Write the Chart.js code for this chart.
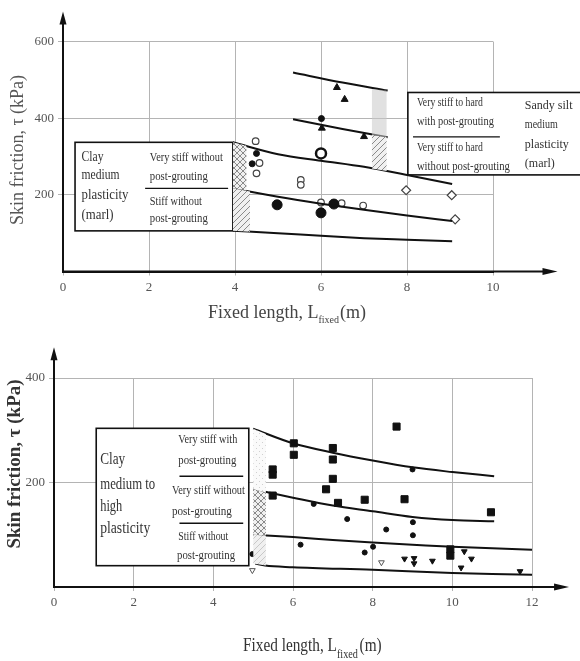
<!DOCTYPE html>
<html><head><meta charset="utf-8">
<script src="https://cdn.jsdelivr.net/npm/chart.js@4.4.1/dist/chart.umd.min.js"></script>
<style>
html,body{margin:0;padding:0;background:#fff;width:580px;height:661px;overflow:hidden}
canvas{position:absolute;left:0}
#c1{top:0}#c2{top:330px}
</style></head><body>
<canvas id="c1" width="580" height="330"></canvas>
<canvas id="c2" width="580" height="331"></canvas>
<script>
// ---------------- DATA ----------------
// Top panel: clay medium plasticity (marl) / sandy silt
const topXTicks=[0,2,4,6,8,10];
const topYTicks=[200,400,600];
const topCurveA=[[5.35,519],[6.5,493],[7.55,472]];
const topCurveB=[[5.35,397],[6.5,372],[7.55,350]];
const topCurveC=[[3.95,337],[5,306],[6,289],[7,273],[8,252],[9.05,228]];
const topCurveD=[[3.95,217],[5,195],[6,177],[7,161],[8,146],[9.05,132]];
const topCurveE=[[3.95,106],[5,100],[6,93],[7,87],[8,83],[9.05,79]];
const topTriFilled=[[6.37,480],[6.55,449],[6.02,374],[7.0,352]];
const topDotFilled=[[6.01,399],[4.5,308],[4.4,281]];
const topBigFilled=[[4.98,174],[6.0,153],[6.3,176]];
const topCircleOpen=[[4.48,340],[4.5,256],[6.0,180],[6.98,172],[6.48,178],[4.57,283],[5.53,239],[5.53,226]];
const topCircleBold=[[6.0,308]];
const topDiamondOpen=[[7.98,212],[9.04,199],[9.12,136]];
const topCrossUpper=[[3.95,337],[4.27,328]];
const topCrossLower=[[3.95,217],[4.27,211]];
const topDiagUpper=[[3.95,217],[4.35,209]];
const topDiagLower=[[3.95,106],[4.35,104]];
const topShadeUpper=[[7.18,476],[7.53,472]];
const topShadeLower=[[7.18,356],[7.53,350]];
const topHatchUpper=[[7.18,356],[7.53,350]];
const topHatchLower=[[7.18,269],[7.53,262]];
const topLeftBox=[[0.28,3.95],[106,337]];
const topLeftDivider=[1.91,3.84,217];
const topRightBox=[[8.02,12.6],[252,467]];
const topRightDivider=[8.14,10.16,351];
const topLeftLabels=['Clay','medium','plasticity','(marl)'];
const topLeftSubLabels=['Very stiff without','post-grouting','Stiff without','post-grouting'];
const topRightLabels=['Very stiff to hard','with post-grouting','Very stiff to hard','without post-grouting'];
const topRightSideLabels=['Sandy silt','medium','plasticity','(marl)'];

// Bottom panel: clay medium to high plasticity
const botXTicks=[0,2,4,6,8,10,12];
const botYTicks=[200,400];
const botCurve1=[[5,303],[6,275],[7,257],[8,242],[9,229],[10,220],[11.05,212]];
const botCurve2=[[5,187],[6,171],[7,156],[8,145],[9,134],[10,128],[11.05,126]];
const botCurve3=[[5,100],[6,95.5],[7,90],[8,85],[9,81],[10,77],[11,74],[12.5,70]];
const botCurve4=[[5.05,45],[5.3,41],[6,38],[8,33],[10,27],[11,25],[12.5,23]];
const botSquares=[[8.6,307],[6.02,275],[6.02,253],[7.0,266],[7.0,244],[5.49,225],[5.49,215],[7.0,207],[6.83,187],[5.49,175],[7.13,161],[7.8,167],[8.8,168],[10.97,143],[9.95,72],[9.95,60]];
const botDots=[[6.52,159],[7.36,130],[8.34,110],[9.01,124],[9.01,99],[6.19,81],[7.8,66],[8.01,77],[4.98,63],[9.0,225]];
const botTriDown=[[8.8,54],[9.04,55],[9.5,50],[10.3,68],[10.48,54],[10.22,37],[12.37,49],[11.7,30],[9.04,45]];
const botTriDownOpen=[[8.22,47],[4.98,32]];
const botCrossUpper=[[5.0,187],[5.32,181]];
const botCrossLower=[[5.0,100],[5.32,98.5]];
const botDotUpper=[[5.0,303],[5.32,293]];
const botDiagLower=[[5.0,45],[5.32,41]];
const botBox=[[1.06,4.89],[40.8,303.7]];
const botDividers=[[3.15,4.75,212],[3.15,4.75,122]];
const botLabels=['Clay','medium to','high','plasticity'];
const botSubLabels=['Very stiff with','post-grouting','Very stiff without','post-grouting','Stiff without','post-grouting'];

const axisTitleY='Skin friction, \u03C4 (kPa)';
const axisTitleX=['Fixed length, L','fixed','(m)'];

// ---------------- RENDERING ----------------
const SERIF="'Liberation Serif','DejaVu Serif','Times New Roman',serif";
const pts=a=>a.map(p=>({x:p[0],y:p[1]}));

function makePattern(ctx,kind){
  const c=document.createElement('canvas');c.width=6;c.height=6;
  const g=c.getContext('2d');
  g.fillStyle=kind==='dots'?'#fafafa':'#f0f0f0';g.fillRect(0,0,6,6);
  g.strokeStyle=kind==='faint'?'#c8c8c8':'#8a8a8a';g.lineWidth=1;
  if(kind==='dots'){g.fillStyle='#d0d0d0';g.fillRect(1,1,1,1);g.fillRect(4,4,1,1);return ctx.createPattern(c,'repeat');}
  g.beginPath();g.moveTo(0,6);g.lineTo(6,0);g.moveTo(-1,1);g.lineTo(1,-1);g.moveTo(5,7);g.lineTo(7,5);g.stroke();
  if(kind==='cross'){g.beginPath();g.moveTo(0,0);g.lineTo(6,6);g.moveTo(5,-1);g.lineTo(7,1);g.moveTo(-1,5);g.lineTo(1,7);g.stroke();}
  return ctx.createPattern(c,'repeat');
}
function curve(a){return {type:'line',data:pts(a),borderColor:'#111',borderWidth:2,pointRadius:0,cubicInterpolationMode:'monotone',fill:false};}
function band(up,lo,bg){return [
  {type:'line',data:pts(up),borderWidth:0,borderColor:'rgba(0,0,0,0)',pointRadius:0,fill:'+1',backgroundColor:bg},
  {type:'line',data:pts(lo),borderWidth:0,borderColor:'rgba(0,0,0,0)',pointRadius:0,fill:false}];}
function marks(a,style,o){return Object.assign({type:'scatter',data:pts(a),pointStyle:style,pointRadius:3.5,backgroundColor:'#111',borderColor:'#111',borderWidth:1},o||{});}

const decoPlugin={
  id:'deco',
  beforeDatasetsDraw(chart,args,o){
    const ctx=chart.ctx,xs=chart.scales.x,ys=chart.scales.y;
    const X=v=>xs.getPixelForValue(v),Y=v=>ys.getPixelForValue(v);
    ctx.save();
    o.boxes.forEach(b=>{
      const l=X(b[0][0]),r=X(b[0][1]),t=Y(b[1][1]),bt=Y(b[1][0]);
      ctx.fillStyle='#fff';ctx.fillRect(l,t,r-l,bt-t);
      ctx.strokeStyle='#111';ctx.lineWidth=1.6;ctx.strokeRect(l,t,r-l,bt-t);
    });
    o.dividers.forEach(d=>{ctx.beginPath();ctx.moveTo(X(d[0]),Y(d[2]));ctx.lineTo(X(d[1]),Y(d[2]));ctx.strokeStyle='#111';ctx.lineWidth=1.3;ctx.stroke();});
    ctx.fillStyle='#333';ctx.textBaseline='middle';ctx.textAlign='left';
    o.texts.forEach(g=>{
      ctx.font=g.size+'px '+SERIF;
      g.labels.forEach((t,i)=>{
        const x=Array.isArray(g.x)?g.x[i]:g.x;
        ctx.fillText(t,X(x),Y(g.ys[i]),g.widths[i]);
      });
    });
    ctx.restore();
  },
  afterDraw(chart,args,o){
    const ctx=chart.ctx,xs=chart.scales.x,ys=chart.scales.y;
    const x0=xs.getPixelForValue(0),y0=ys.getPixelForValue(0);
    const yTop=ys.getPixelForValue(o.yArrow),xEnd=xs.getPixelForValue(o.xArrow);
    ctx.save();
    ctx.strokeStyle='#111';ctx.fillStyle='#111';ctx.lineWidth=2;
    ctx.beginPath();ctx.moveTo(x0,y0);ctx.lineTo(x0,yTop+10);ctx.stroke();
    ctx.beginPath();ctx.moveTo(x0,yTop);ctx.lineTo(x0-3.5,yTop+13);ctx.lineTo(x0+3.5,yTop+13);ctx.closePath();ctx.fill();
    ctx.beginPath();ctx.moveTo(x0,y0);ctx.lineTo(xEnd-10,y0);ctx.stroke();
    ctx.beginPath();ctx.moveTo(xEnd,y0);ctx.lineTo(xEnd-15,y0-3.5);ctx.lineTo(xEnd-15,y0+3.5);ctx.closePath();ctx.fill();
    // y title
    const yt=o.yTitle;
    ctx.save();ctx.translate(yt.x,yt.y);ctx.rotate(-Math.PI/2);
    ctx.font=(yt.bold?'bold ':'')+yt.size+'px '+SERIF;ctx.fillStyle=yt.color;ctx.textAlign='center';ctx.textBaseline='middle';
    ctx.fillText(axisTitleY,0,0,yt.width);ctx.restore();
    // x title with subscript
    const xt=o.xTitle;
    ctx.save();ctx.translate(xt.x,xt.y);ctx.scale(xt.sx,1);
    ctx.fillStyle=xt.color;ctx.textBaseline='alphabetic';ctx.textAlign='left';
    ctx.font=xt.size+'px '+SERIF;
    ctx.fillText(axisTitleX[0],0,0);let w=ctx.measureText(axisTitleX[0]).width;
    ctx.font=xt.subSize+'px '+SERIF;
    ctx.fillText(axisTitleX[1],w,xt.subDy);w+=ctx.measureText(axisTitleX[1]).width+xt.gap;
    ctx.font=xt.size+'px '+SERIF;
    ctx.fillText(axisTitleX[2],w,0);
    ctx.restore();
    ctx.restore();
  }
};

function makeChart(id,o){
  new Chart(document.getElementById(id),{
    type:'scatter',
    data:{datasets:o.datasets},
    options:{
      responsive:false,animation:false,events:[],
      layout:{padding:{top:o.padTop,right:o.padRight,bottom:0,left:0}},
      plugins:{legend:{display:false},tooltip:{enabled:false},deco:o.deco},
      scales:{
        x:{type:'linear',min:o.xMin,max:o.xMax,
          afterBuildTicks:s=>{s.ticks=o.xTicks.map(v=>({value:v}));},
          afterFit:s=>{s.height=o.xHeight;},
          ticks:{color:'#555',font:{family:SERIF,size:13},padding:4,maxRotation:0,autoSkip:false},
          grid:{color:'#b4b4b4',lineWidth:1,tickLength:4},
          border:{display:true,color:'#111',width:2}},
        y:{type:'linear',min:0,max:o.yMax,
          afterBuildTicks:s=>{s.ticks=o.yTicks.map(v=>({value:v}));},
          afterFit:s=>{s.width=o.yWidth;},
          ticks:{color:'#555',font:{family:SERIF,size:13},padding:4,autoSkip:false},
          grid:{color:'#b4b4b4',lineWidth:1,tickLength:5},
          border:{display:true,color:'#111',width:2}}
      }
    },
    plugins:[decoPlugin]
  });
}

// ---- top chart ----
const ctx1=document.getElementById('c1').getContext('2d');
makeChart('c1',{
  xMin:0,xMax:10,yMax:600,xTicks:topXTicks,yTicks:topYTicks,
  padTop:41.5,padRight:87,xHeight:58.5,yWidth:63,
  datasets:[
    ...band(topCrossUpper,topCrossLower,makePattern(ctx1,'cross')),
    ...band(topDiagUpper,topDiagLower,makePattern(ctx1,'diag')),
    ...band(topShadeUpper,topShadeLower,'rgba(200,200,200,0.55)'),
    ...band(topHatchUpper,topHatchLower,makePattern(ctx1,'diag')),
    curve(topCurveA),curve(topCurveB),curve(topCurveC),curve(topCurveD),curve(topCurveE),
    marks(topTriFilled,'triangle',{pointRadius:4}),
    marks(topDotFilled,'circle',{pointRadius:3}),
    marks(topBigFilled,'circle',{pointRadius:5}),
    marks(topCircleOpen,'circle',{pointRadius:3.3,backgroundColor:'#fff',borderColor:'#444',borderWidth:1.2}),
    marks(topCircleBold,'circle',{pointRadius:5,backgroundColor:'#fff',borderColor:'#111',borderWidth:2.5}),
    marks(topDiamondOpen,'rectRot',{pointRadius:4.5,backgroundColor:'#fff',borderColor:'#444',borderWidth:1.2})
  ],
  deco:{
    boxes:[topLeftBox,topRightBox],
    dividers:[topLeftDivider,topRightDivider],
    texts:[
      {labels:topLeftLabels,x:0.43,ys:[299,252,199.5,147],size:14,widths:[22,38,47,32]},
      {labels:topLeftSubLabels,x:2.02,ys:[296,247,182,137],size:12,widths:[73,58,52,58]},
      {labels:topRightLabels,x:8.23,ys:[439,390.6,322,273],size:12,widths:[66,77,66,93]},
      {labels:topRightSideLabels,x:10.74,ys:[431.5,382,330,280],size:12,widths:[50,33,48,30]}
    ],
    xArrow:11.5,yArrow:678,
    yTitle:{x:18,y:150,size:18,bold:false,color:'#555',width:172},
    xTitle:{x:208,y:318,size:18,subSize:10,subDy:5,gap:1,sx:1,color:'#444'}
  }
});

// ---- bottom chart ----
const ctx2=document.getElementById('c2').getContext('2d');
makeChart('c2',{
  xMin:0,xMax:12,yMax:400,xTicks:botXTicks,yTicks:botYTicks,
  padTop:48,padRight:48,xHeight:74,yWidth:54,
  datasets:[
    ...band(botDotUpper,botCrossUpper,makePattern(ctx2,'dots')),
    ...band(botCrossUpper,botCrossLower,makePattern(ctx2,'cross')),
    ...band(botCrossLower,botDiagLower,makePattern(ctx2,'faint')),
    curve(botCurve1),curve(botCurve2),curve(botCurve3),curve(botCurve4),
    marks(botSquares,'rect',{pointRadius:5}),
    marks(botDots,'circle',{pointRadius:2.5}),
    marks(botTriDown,'triangle',{pointRadius:3.3,rotation:180}),
    marks(botTriDownOpen,'triangle',{pointRadius:3.3,rotation:180,backgroundColor:'#fff',borderColor:'#555'})
  ],
  deco:{
    boxes:[botBox],
    dividers:botDividers,
    texts:[
      {labels:botLabels,x:1.16,ys:[243,195,153.7,112],size:16,widths:[25,55,22,50]},
      {labels:botSubLabels,x:[3.12,3.12,2.96,2.96,3.12,3.09],ys:[281,242,184,144,96,59],size:12,widths:[59,58,73,60,50,58]}
    ],
    xArrow:12.93,yArrow:459,
    yTitle:{x:15,y:134,size:19,bold:true,color:'#333',width:195},
    xTitle:{x:243,y:321,size:18,subSize:12,subDy:7,gap:2,sx:0.85,color:'#333'}
  }
});
</script>
</body></html>
